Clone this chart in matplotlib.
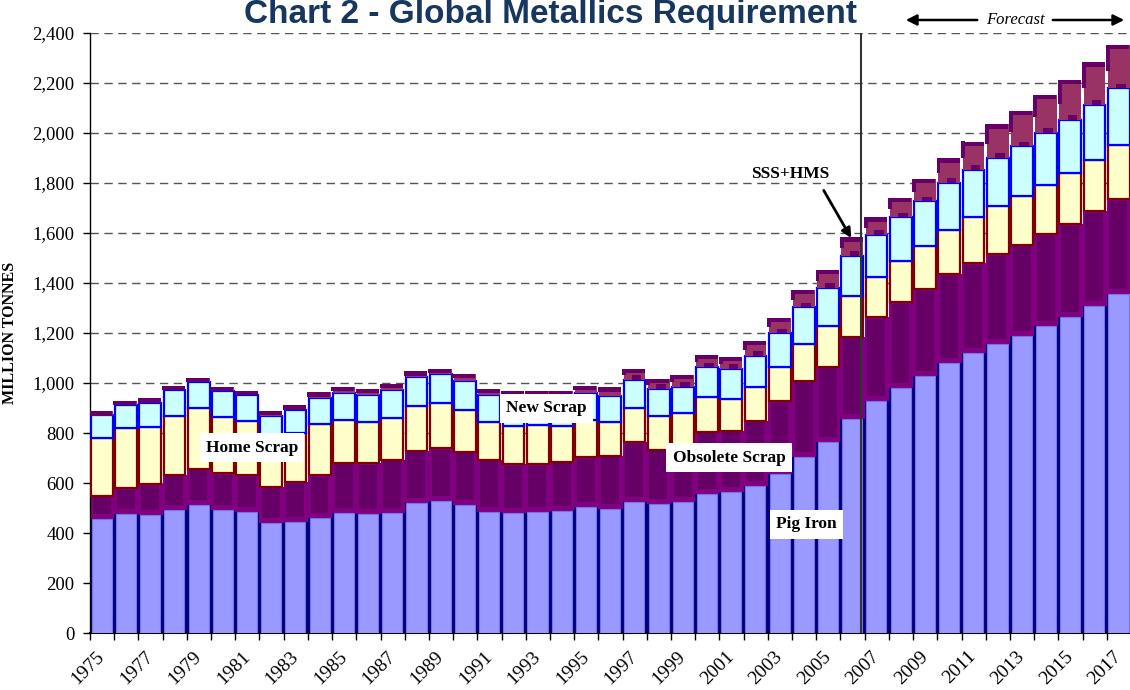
import matplotlib
matplotlib.use('Agg')
import matplotlib.pyplot as plt
import numpy as np
from matplotlib.ticker import FuncFormatter

years = list(range(1975, 2018))
pig_iron = [457, 477, 473, 493, 514, 494, 483, 441, 445, 459, 479, 476, 482, 522, 529,
            513, 486, 479, 483, 490, 506, 497, 523, 517, 523, 557, 563, 590, 637, 703,
            766, 857, 928, 980, 1028, 1081, 1120, 1157, 1190, 1230, 1265, 1308, 1355]
obsolete_scrap = [93, 102, 124, 141, 144, 145, 148, 145, 159, 174, 203, 205, 212, 208, 212,
                  213, 208, 198, 194, 196, 197, 213, 240, 217, 214, 249, 247, 260, 290, 307,
                  300, 329, 335, 343, 349, 356, 359, 360, 364, 367, 372, 379, 382]
home_scrap = [231, 240, 226, 236, 243, 227, 216, 196, 195, 203, 171, 164, 167, 180, 178,
              168, 149, 153, 155, 144, 150, 136, 138, 133, 142, 137, 127, 136, 139, 147,
              161, 161, 160, 164, 170, 176, 184, 190, 193, 197, 202, 207, 216]
new_scrap = [92, 94, 99, 103, 102, 101, 106, 88, 93, 105, 108, 109, 112, 116, 118,
             116, 110, 115, 113, 115, 107, 104, 112, 110, 107, 120, 120, 124, 133, 146,
             154, 163, 170, 176, 180, 188, 191, 195, 200, 207, 214, 220, 227]
sss_hms = [14, 17, 17, 17, 19, 19, 17, 20, 20, 23, 24, 23, 24, 21, 21,
           27, 24, 23, 23, 23, 30, 33, 44, 40, 48, 50, 49, 60, 62, 70,
           72, 73, 70, 78, 90, 98, 112, 133, 143, 153, 161, 169, 173]
y_ticks = list(range(0, 2401, 200))

SERIF = ['Liberation Serif', 'DejaVu Serif']
SANS = ['Liberation Sans', 'DejaVu Sans']

fig = plt.figure(figsize=(11.3, 6.9), dpi=100)
fig.patch.set_facecolor('white')
ax = fig.add_axes([90 / 1130, 57 / 690, 1041 / 1130, 600 / 690])

x = np.arange(len(years))
pig = np.array(pig_iron, float)
obs = np.array(obsolete_scrap, float)
home = np.array(home_scrap, float)
new = np.array(new_scrap, float)
sss = np.array(sss_hms, float)
b1 = pig
b2 = b1 + obs
b3 = b2 + home
b4 = b3 + new
b5 = b4 + sss

# Pig iron
ax.bar(x - 0.5, pig, width=1.0, align='edge', color='#000080', lw=0, zorder=2)
ax.bar(x - 0.43, pig, width=0.83, align='edge', color='#9999FF',
       edgecolor='#7474E6', lw=0.8, zorder=3)
# Obsolete scrap
ax.bar(x - 0.5, obs, bottom=b1, width=1.0, align='edge', color='#800080', lw=0, zorder=2)
ax.bar(x - 0.39, obs - 27, bottom=b1 + 20, width=0.74, align='edge',
       color='#660066', lw=0, zorder=3)
# Home scrap
ax.bar(x - 0.46, home, bottom=b2, width=0.9, align='edge', color='#FFFFCC',
       edgecolor='#800000', lw=1.6, zorder=4)
# New scrap
ax.bar(x - 0.46, new, bottom=b3, width=0.9, align='edge', color='#CCFFFF',
       edgecolor='#0000FF', lw=1.6, zorder=4)
# SSS + HMS
ax.bar(x - 0.46, sss, bottom=b4, width=0.9, align='edge', color='#993366', lw=0, zorder=5)
big = sss >= 40
ax.bar((x - 0.53)[big], (sss * 0.6)[big], bottom=(b5 - sss * 0.6)[big], width=0.16,
       align='edge', color='#660066', lw=0, zorder=5)
ax.bar((x - 0.12)[big], np.full(big.sum(), 18.0), bottom=b4[big], width=0.4,
       align='edge', color='#660066', lw=0, zorder=5)
ax.bar(x - 0.53, np.full(len(x), 18.0), bottom=b5 - 18, width=0.95, align='edge',
       color='#660066', lw=0, zorder=6)

ax.set_xlim(-0.5, len(years) - 0.5)
ax.set_ylim(0, 2400)

ax.set_yticks(y_ticks)
ax.yaxis.set_major_formatter(FuncFormatter(lambda v, p: f'{int(v):,}'))
ax.yaxis.grid(True, linestyle=(0, (6, 4)), color='#555555', lw=1.0, zorder=0.5)
ax.set_axisbelow(True)
for lab in ax.get_yticklabels():
    lab.set_fontfamily(SERIF)
    lab.set_fontsize(13.5)
ax.tick_params(axis='y', direction='out', length=5, width=1, pad=6, colors='black')

ax.set_xticks(np.arange(-0.5, len(years), 1.0))
ax.set_xticklabels([])
ax.tick_params(axis='x', which='major', direction='out', length=5, width=1)
ax.set_xticks(x[::2], minor=True)
ax.set_xticklabels([str(y) for y in years[::2]], minor=True, rotation=45,
                   ha='right', va='center', rotation_mode='anchor',
                   fontfamily=SERIF, fontsize=14)
ax.tick_params(axis='x', which='minor', length=0, pad=15)

for s in ['top', 'right']:
    ax.spines[s].set_visible(False)
ax.spines['left'].set_linewidth(1.0)
ax.spines['bottom'].set_linewidth(1.5)

ax.set_ylabel('MILLION TONNES', fontfamily=SERIF, fontweight='bold', fontsize=11.5)
ax.yaxis.set_label_coords(-(90 - 18) / 1041, 0.5)

# Forecast divider
ax.axvline(31.36, color='#333333', lw=1.5, zorder=7)

box = dict(facecolor='white', edgecolor='none', pad=4.5)
lab_kw = dict(fontfamily=SERIF, fontweight='bold', fontsize=12.5, ha='center',
              va='center', zorder=8, bbox=box)
ax.text(6.19, 742, 'Home Scrap', **lab_kw)
ax.text(18.34, 898, 'New Scrap', **lab_kw)
ax.text(25.9, 702, 'Obsolete Scrap', **lab_kw)
ax.text(29.09, 434, 'Pig Iron', **lab_kw)
ax.text(28.43, 1838, 'SSS+HMS', fontfamily=SERIF, fontweight='bold', fontsize=12.5,
        ha='center', va='center', zorder=8)
ax.annotate('', xy=(31.0, 1570), xytext=(29.75, 1780),
            arrowprops=dict(arrowstyle='-|>', color='black', lw=2, mutation_scale=14),
            zorder=8)

# Title and forecast marker
fig.text(550 / 1130, 675 / 690, 'Chart 2 - Global Metallics Requirement',
         fontfamily=SANS, fontweight='bold', fontsize=24, color='#17375E',
         ha='center', va='center')
fig.text(1015 / 1130, 670 / 690, 'Forecast', fontfamily=SERIF, fontstyle='italic',
         fontsize=12, ha='center', va='center')
ax.annotate('', xy=(903, 670), xytext=(980, 670), xycoords='figure pixels',
            textcoords='figure pixels',
            arrowprops=dict(arrowstyle='-|>', color='black', lw=1.8, mutation_scale=16))
ax.annotate('', xy=(1127, 670), xytext=(1050, 670), xycoords='figure pixels',
            textcoords='figure pixels',
            arrowprops=dict(arrowstyle='-|>', color='black', lw=1.8, mutation_scale=16))

fig.savefig('out.png', dpi=100)
